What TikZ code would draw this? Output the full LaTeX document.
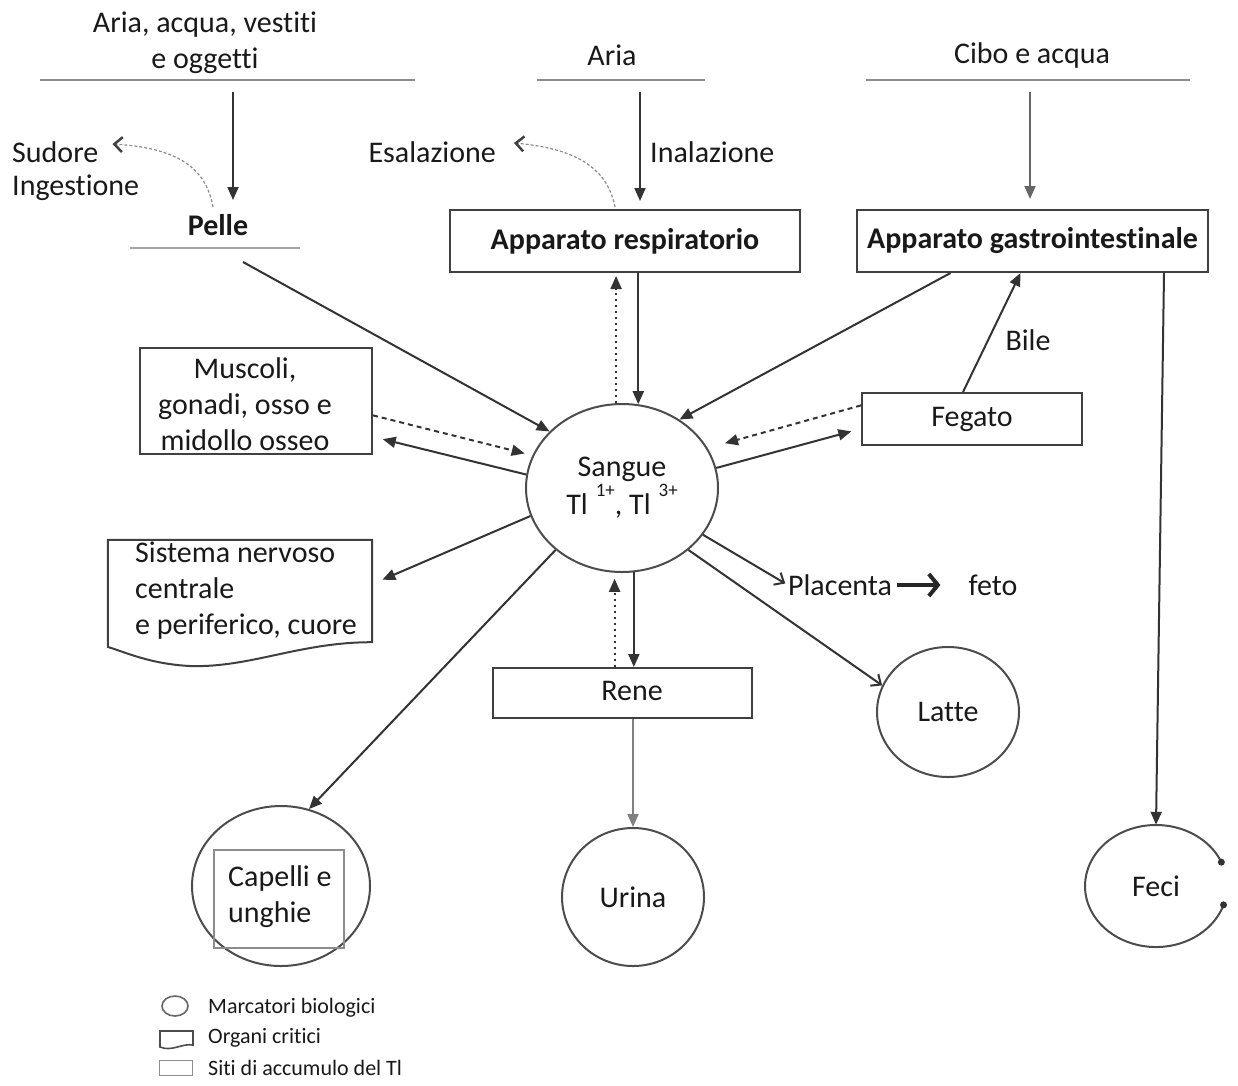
\documentclass[tikz,border=0pt]{standalone}
\usepackage{fontspec}
\setmainfont{Carlito}[Ligatures={NoCommon,NoRare,NoDiscretionary}]
\usetikzlibrary{arrows.meta,shapes.geometric,calc}
\begin{document}
\begin{tikzpicture}[x=1pt,y=-1pt,
  every node/.style={inner sep=0pt, font=\fontsize{30}{36}\selectfont, text=black!90},
  ln/.style={line width=2pt, draw=black!80},
  arr/.style={ln, -{Triangle[length=13pt,width=11pt]}},
  darr/.style={arr, dash pattern=on 5pt off 4pt},
  dotarr/.style={arr, dash pattern=on 2pt off 4pt},
  oarr/.style={ln, -{Straight Barb[length=8pt,width=14pt]}},
  sarr/.style={line width=1.2pt, draw=black!45, dash pattern=on 3pt off 2pt, -{Straight Barb[length=8pt,width=15pt,line width=2.5pt,color=black!75]}},
  boxn/.style={draw=black!75, line width=2pt},
  circn/.style={ellipse, draw=black!70, line width=2pt},
  srcl/.style={line width=1.6pt, draw=black!45},
  bf/.style={font=\fontsize{30}{36}\selectfont\bfseries},
  small/.style={font=\fontsize{22}{26}\selectfont}
]
\useasboundingbox (0,0) rectangle (1238,1085);

% sources
\node[align=center] (s1) at (205,43) {Aria, acqua, vestiti\\e oggetti};
\node (s2) at (612,55) {Aria};
\node (s3) at (1032,55) {Cibo e acqua};
\draw[srcl] (40,80) -- (415,80);
\draw[srcl] (537,80) -- (705,80);
\draw[srcl] (866,80) -- (1190,80);

% Pelle
\node[bf] (P) at (218,225) {Pelle};
\draw[srcl, line width=1.2pt, draw=black!35] (130,248) -- (300,248);
\coordinate (a1) at (233,92);
\coordinate (a1e) at (233,200);
\draw[arr] (a1) -- (a1e);
\node[anchor=west] (sud) at (12,152) {Sudore};
\node[anchor=west] (ing) at (12,188) {Ingestione};
\coordinate (sudS) at (213,207);
\draw[sarr] (sudS) .. controls (206,168) and (178,148) .. ($(sud.east)+(14,-8)$);

% respiratorio
\node[boxn, minimum width=350, minimum height=62, bf] (AR) at (625,241) {Apparato respiratorio};
\coordinate (a2) at (640,92);
\draw[arr, shorten >=8pt] (a2) -- (AR.north -| a2);
\node[anchor=west] (ina) at (650,152) {Inalazione};
\node[anchor=east] (esa) at (496,152) {Esalazione};
\draw[sarr] ($(AR.north)+(-10,-2)$) .. controls (608,172) and (582,149) .. ($(esa.east)+(18,-9)$);

% gastrointestinale
\node[boxn, minimum width=351, minimum height=62, bf] (AG) at (1032.5,241) {Apparato gastrointestinale};
\coordinate (a3) at (1030,92);
\draw[arr, draw=black!60, shorten >=10pt] (a3) -- (AG.north -| a3);

% Sangue
\node[circn, minimum width=192, minimum height=168, align=center] (S) at (622,488)
  {Sangue\\[2pt]Tl\hspace{8pt}\raisebox{18pt}{\fontsize{19}{19}\selectfont 1+}, Tl\hspace{8pt}\raisebox{18pt}{\fontsize{19}{19}\selectfont 3+}};

% Fegato
\node[boxn, minimum width=220, minimum height=52] (F) at (972,419) {Fegato};
\node (bile) at (1028,340) {Bile};

% Muscoli
\node[boxn, minimum width=232, minimum height=106] (M) at (256,401) {};
\node[align=center] (Mt) at (245,404) {Muscoli,\\gonadi, osso e\\midollo osseo};

% Sistema nervoso
\node[minimum width=264, minimum height=102] (N) at (240,591) {};
\draw[boxn] (N.north west) -- (N.north east) -- (N.south east)
  .. controls (300,642) and (250,668) .. (190,666)
  .. controls (150,664) and (125,652) .. (108,647) -- cycle;
\node[anchor=west, align=left] (Nt) at (135,591) {Sistema nervoso\\centrale\\e periferico, cuore};

% Capelli
\node[circn, minimum width=178, minimum height=160] (C) at (281,886) {};
\node[draw=black!45, line width=2pt, minimum width=130, minimum height=98] (Ci) at (279,899) {};
\node[anchor=west, align=left] (Ct) at (228,897) {Capelli e\\unghie};

% Rene, Urina, Latte, Placenta
\node[boxn, minimum width=259, minimum height=50] (R) at (622.5,693) {};
\node (Rt) at (632,691) {Rene};
\node[circn, minimum width=142, minimum height=138] (U) at (633,897) {Urina};
\node[circn, minimum width=142, minimum height=130] (L) at (948,712) {Latte};
\node (Pl) at (840,585) {Placenta};
\node (fe) at (993,585) {feto};

% Feci
\node[ellipse, minimum width=142, minimum height=122] (Fe) at (1156,886) {Feci};
\draw[line width=2pt, draw=black!70] ($(Fe.center)+(-23:71 and 61)$) arc[start angle=-23, end angle=-342, x radius=71, y radius=61];
\fill[black!80] ($(Fe.center)+(-23:71 and 61)$) circle (3.5);
\fill[black!80] ($(Fe.center)+(-342:71 and 61)$) circle (3.5);

% connectors
\coordinate (pa) at (243,262);
\draw[arr] (pa) -- (S.142);
\draw[dotarr, shorten >=3pt] (S.94) -- (AR.south -| S.94);
\draw[arr] (AR.south -| S.79) -- (S.79);
\draw[arr] ($(AG.south)+(-82,0)$) -- (S.50);
\draw[arr] ($(F.north)+(-9,0)$) -- ($(AG.south)+(-12,0)$);
\draw[darr, shorten >=18pt] (F.173) -- (S.25);
\draw[arr, shorten >=10pt] (S.12) -- (F.185);
\draw[darr, shorten >=8pt] (M.-7) -- (S.160);
\draw[arr, shorten >=10pt] (S.172) -- (M.-17);
\draw[arr, shorten >=11pt] (S.197) -- (N.3);
\draw[arr] (S.223) -- (C.70);
\draw[dotarr, shorten >=6pt] (R.north -| S.265) -- (S.265);
\draw[arr] (S.278) -- (R.north -| S.278);
\draw[arr, draw=black!50] (R.south -| U.north) -- (U.north);
\draw[oarr, shorten >=3pt] (S.-30) -- (Pl.west);
\draw[oarr] (S.-43) -- (L.158);
\draw[line width=3.5pt, draw=black!85, -{Straight Barb[length=9pt,width=22pt,line width=4pt]}, shorten <=5pt, shorten >=28pt] (Pl.east) -- (fe.west);
\draw[arr] ($(AG.south east)+(-45,0)$) -- (Fe.north);

% legend
\node[ellipse, draw=black!60, line width=1.6pt, minimum width=26, minimum height=20] (li1) at (175,1006) {};
\node[anchor=west, small] (lg1) at (208,1008) {Marcatori biologici};
\coordinate (li2) at (160,1031);
\draw[line width=1.6pt, draw=black!70] (li2) -- ++(33,0) -- ++(0,14) .. controls (182,1043) and (172,1052) .. (160,1047) -- cycle;
\node[anchor=west, small] (lg2) at (208,1038) {Organi critici};
\node[draw=black!45, line width=1.6pt, minimum width=33, minimum height=15] (li3) at (176,1068) {};
\node[anchor=west, small] (lg3) at (208,1068) {Siti di accumulo del Tl};
\end{tikzpicture}
\end{document}
